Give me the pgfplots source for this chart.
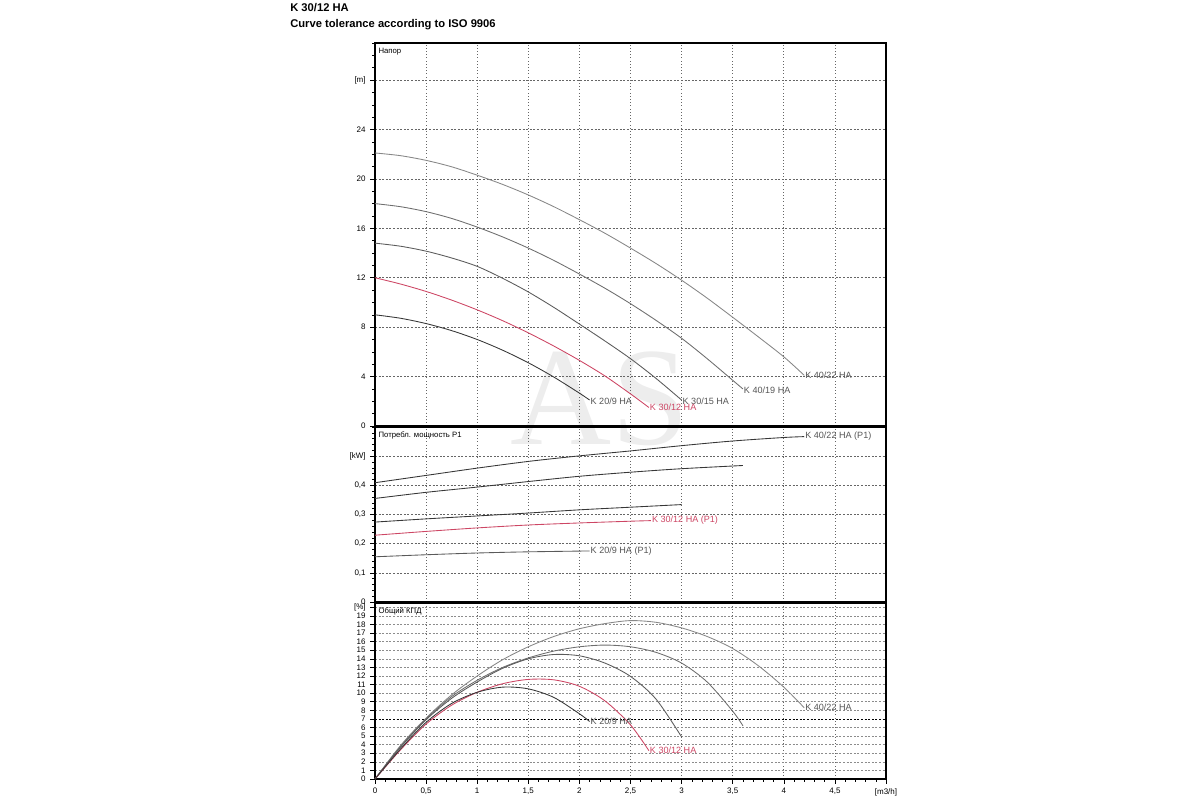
\documentclass[border=0pt]{standalone}
\usepackage{fontspec}
\setmainfont{Liberation Sans}
\newfontfamily\wmfont{Liberation Serif}
\usepackage{pgfplots}
\pgfplotsset{compat=1.18}
\definecolor{pred}{RGB}{205,70,100}
\definecolor{ca}{RGB}{135,135,135}
\definecolor{cb}{RGB}{110,110,110}
\definecolor{cc}{RGB}{90,90,90}
\definecolor{cd}{RGB}{55,55,55}
\definecolor{lblc}{RGB}{85,85,85}
\tikzset{
  lbl/.style={anchor=west, inner sep=0.6pt, font=\fontsize{6.8}{8}\selectfont, text=lblc},
  ttl/.style={anchor=north west, inner sep=1pt, font=\fontsize{5.8}{7}\selectfont, xshift=1.5pt, yshift=-2.5pt},
}
\pgfplotsset{
  panel/.style={
    scale only axis, width=383.25pt,
    xmin=0, xmax=5, xtick={0,0.5,...,5},
    xmajorgrids, ymajorgrids,
    axis line style={line width=1.1pt},
    tick pos=left, tick align=outside,
    major tick length=3.5pt, minor tick length=2pt,
    every tick/.style={black, line width=0.4pt},
    ticklabel style={font=\fontsize{6}{7}\selectfont},
    major x grid style={dotted, black!60, line width=0.5pt},
    major y grid style={dash pattern=on 1.5pt off 1.2pt, black!60, line width=0.45pt},
    /pgf/number format/assume math mode=true,
    clip=false,
  },
  crv/.style={smooth, line width=0.65pt, no marks},
}
\begin{document}
\begin{tikzpicture}[x=1pt,y=1pt]
\path[use as bounding box] (0,0) rectangle (900,600);
% watermark
\node[anchor=base, inner sep=0pt, text=black!7, font=\wmfont\fontsize{105}{105}\selectfont] at (450,266.25) {AS};
% titles
\node[anchor=base west, inner sep=0pt, font=\fontsize{8.4}{10}\selectfont\bfseries] at (217.5,591.2) {K 30/12 HA};
\node[anchor=base west, inner sep=0pt, font=\fontsize{8.4}{10}\selectfont\bfseries] at (217.5,579.5) {Curve tolerance according to ISO 9906};

% ---------- Head ----------
\begin{axis}[panel, at={(281.25pt,280.5pt)}, anchor=south west, height=287.25pt,
  ymin=0, ymax=31, ytick={0,4,...,28}, yticklabels={0,4,8,12,16,20,24,{[m]}},
  minor ytick={0,1,...,31}, xticklabels={}, xtick style={draw=none}]
\node[ttl] at (rel axis cs:0,1) {Напор};
\addplot[crv, ca] coordinates {(0,22.1)(0.25,21.88)(0.5,21.5)(0.75,20.98)(1,20.3)(1.25,19.55)(1.5,18.7)(1.75,17.75)(2,16.7)(2.25,15.6)(2.5,14.4)(2.75,13.15)(3,11.8)(3.25,10.35)(3.5,8.8)(3.75,7.22)(4,5.6)(4.2,4.1)};
\addplot[crv, cb] coordinates {(0,18.0)(0.25,17.75)(0.5,17.35)(0.75,16.8)(1,16.1)(1.25,15.3)(1.5,14.4)(1.75,13.4)(2,12.3)(2.25,11.15)(2.5,9.9)(2.75,8.55)(3,7.1)(3.25,5.45)(3.5,3.7)(3.6,3.0)};
\addplot[crv, cc] coordinates {(0,14.8)(0.25,14.55)(0.5,14.15)(0.75,13.6)(1,12.92)(1.25,11.95)(1.5,10.85)(1.75,9.6)(2,8.25)(2.25,6.88)(2.5,5.45)(2.75,3.85)(3,2.1)};
\addplot[crv, pred] coordinates {(0,12.0)(0.25,11.49)(0.5,10.89)(0.75,10.19)(1,9.4)(1.25,8.52)(1.5,7.54)(1.75,6.47)(2,5.31)(2.25,4.05)(2.5,2.6)(2.68,1.5)};
\addplot[crv, cd] coordinates {(0,9.0)(0.25,8.72)(0.5,8.29)(0.75,7.72)(1,7.0)(1.25,6.13)(1.5,5.12)(1.75,3.96)(2,2.66)(2.1,2.1)};
\node[lbl] at (axis cs:4.2,4.1) {K 40/22 HA};
\node[lbl] at (axis cs:3.6,2.9) {K 40/19 HA};
\node[lbl] at (axis cs:3.0,2.0) {K 30/15 HA};
\node[lbl, text=pred] at (axis cs:2.68,1.5) {K 30/12 HA};
\node[lbl] at (axis cs:2.1,2.0) {K 20/9 HA};
\end{axis}

% ---------- Power ----------
\begin{axis}[panel, at={(281.25pt,148.5pt)}, anchor=south west, height=131.25pt,
  ymin=0, ymax=0.6, ytick={0,0.1,0.2,0.3,0.4,0.5}, yticklabels={0,{0,1},{0,2},{0,3},{0,4},{[kW]}},
  minor ytick={0,0.02,...,0.6}, xticklabels={}, xtick style={draw=none}]
\node[ttl] at (rel axis cs:0,1) {Потребл. мощность P1};
\addplot[crv, cd] coordinates {(0,0.409)(0.5,0.434)(1,0.459)(1.5,0.482)(2,0.501)(2.5,0.518)(3,0.536)(3.5,0.552)(4,0.564)(4.2,0.567)};
\addplot[crv, cd] coordinates {(0,0.355)(0.5,0.376)(1,0.394)(1.5,0.413)(2,0.431)(2.5,0.445)(3,0.457)(3.6,0.468)};
\addplot[crv, cd] coordinates {(0,0.274)(0.5,0.285)(1,0.295)(1.5,0.305)(2,0.316)(2.5,0.325)(3,0.334)};
\addplot[crv, pred] coordinates {(0,0.229)(0.5,0.242)(1,0.254)(1.5,0.264)(2,0.271)(2.5,0.277)(2.7,0.279)};
\addplot[crv, cc] coordinates {(0,0.155)(0.5,0.162)(1,0.168)(1.5,0.172)(2.1,0.175)};
\node[lbl] at (axis cs:4.2,0.567) {K 40/22 HA (P1)};
\node[lbl, text=pred] at (axis cs:2.7,0.279) {K 30/12 HA (P1)};
\node[lbl] at (axis cs:2.1,0.175) {K 20/9 HA (P1)};
\end{axis}

% ---------- Efficiency ----------
\begin{axis}[panel, at={(281.25pt,15.75pt)}, anchor=south west, height=132pt,
  ymin=0, ymax=20.5, ytick={0,1,...,20},
  yticklabels={0,1,2,3,4,5,6,7,8,9,10,11,12,13,14,15,16,17,18,19,{[\%]}},
  major y grid style={dash pattern=on 1.5pt off 1.2pt, black!45, line width=0.45pt},
  extra y ticks={7}, extra y tick labels={},
  extra y tick style={major tick length=0pt, major y grid style={dash pattern=on 1.5pt off 1.2pt, black, line width=0.5pt}},
  minor xtick={0,0.1,...,5},
  xticklabels={0,{0,5},1,{1,5},2,{2,5},3,{3,5},4,{4,5},{[m3/h]}}]
\node[ttl] at (rel axis cs:0,1) {Общий КПД};
\addplot[crv, ca] coordinates {(0,0)(0.25,3.9)(0.5,7.1)(0.75,9.8)(1,12.0)(1.25,13.9)(1.5,15.4)(1.75,16.6)(2,17.5)(2.25,18.1)(2.5,18.45)(2.75,18.25)(3,17.6)(3.25,16.6)(3.5,15.2)(3.75,13.2)(4,10.7)(4.2,8.3)};
\addplot[crv, cb] coordinates {(0,0)(0.25,3.8)(0.5,7.0)(0.75,9.6)(1,11.5)(1.25,13.0)(1.5,14.1)(1.75,14.9)(2,15.4)(2.25,15.6)(2.5,15.4)(2.75,14.75)(3,13.5)(3.25,11.3)(3.5,7.9)(3.6,6.2)};
\addplot[crv, cc] coordinates {(0,0)(0.25,3.7)(0.5,6.9)(0.75,9.4)(1,11.3)(1.25,12.9)(1.5,14.0)(1.75,14.5)(2,14.35)(2.25,13.5)(2.5,11.95)(2.75,9.3)(3,4.9)};
\addplot[crv, pred] coordinates {(0,0)(0.25,3.4)(0.5,6.4)(0.75,8.6)(1,10.1)(1.25,11.1)(1.5,11.6)(1.75,11.55)(2,10.8)(2.25,9.1)(2.5,6.3)(2.68,3.3)};
\addplot[crv, cd] coordinates {(0,0)(0.25,3.5)(0.5,6.6)(0.75,8.8)(1,10.1)(1.25,10.7)(1.5,10.5)(1.75,9.5)(2,7.6)(2.1,6.7)};
\node[lbl] at (axis cs:4.2,8.3) {K 40/22 HA};
\node[lbl, text=pred] at (axis cs:2.68,3.3) {K 30/12 HA};
\node[lbl] at (axis cs:2.1,6.7) {K 20/9 HA};
\end{axis}
\end{tikzpicture}
\end{document}
